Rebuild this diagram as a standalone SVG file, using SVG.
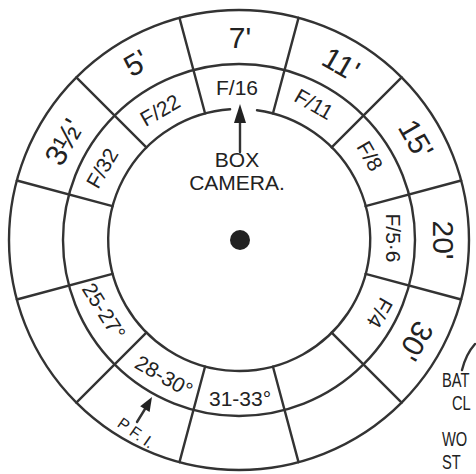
<svg xmlns="http://www.w3.org/2000/svg" width="476" height="474" viewBox="0 0 476 474">
<defs>
<style>
.ln{fill:none;stroke:#333;stroke-width:2.4;stroke-linecap:round}
.t{font-family:"Liberation Sans",Arial,sans-serif;fill:#222;text-anchor:middle;dominant-baseline:central}
.o{font-size:30px}
.i{font-size:21px}
.s{font-family:"Liberation Sans",Arial,sans-serif;fill:#222;font-size:21px}
</style>
</defs>
<rect width="476" height="474" fill="#fff"/>
<g id="connectors">
<circle class="ln" cx="239" cy="240" r="230"/>
<circle class="ln" cx="239" cy="240" r="176"/>
<path class="ln" d="M257,110.2 A131,131 0 1 1 230.1,109.3"/>
<g id="dividers" transform="translate(239,240)">
<line class="ln" x1="0" y1="-131" x2="0" y2="-230" transform="rotate(15)"/>
<line class="ln" x1="0" y1="-131" x2="0" y2="-230" transform="rotate(45)"/>
<line class="ln" x1="0" y1="-131" x2="0" y2="-230" transform="rotate(75)"/>
<line class="ln" x1="0" y1="-131" x2="0" y2="-230" transform="rotate(105)"/>
<line class="ln" x1="0" y1="-131" x2="0" y2="-230" transform="rotate(135)"/>
<line class="ln" x1="0" y1="-131" x2="0" y2="-230" transform="rotate(165)"/>
<line class="ln" x1="0" y1="-131" x2="0" y2="-230" transform="rotate(195)"/>
<line class="ln" x1="0" y1="-131" x2="0" y2="-230" transform="rotate(225)"/>
<line class="ln" x1="0" y1="-131" x2="0" y2="-230" transform="rotate(255)"/>
<line class="ln" x1="0" y1="-131" x2="0" y2="-230" transform="rotate(285)"/>
<line class="ln" x1="0" y1="-131" x2="0" y2="-230" transform="rotate(315)"/>
<line class="ln" x1="0" y1="-131" x2="0" y2="-230" transform="rotate(345)"/>
</g>
<g id="arrow-box">
<line class="ln" x1="240" y1="120" x2="240" y2="152" stroke-width="3"/>
<polygon points="240,104 234,123 246,123" fill="#222"/>
</g>
<g id="arrow-pf">
<line class="ln" x1="137" y1="422" x2="145" y2="409" stroke-width="3.5"/>
<polygon points="152,397 149.6,412 140.2,406.3" fill="#222"/>
</g>
<path class="ln" d="M462,370 Q466,354 475,344"/>
</g>
<g id="hub"><circle cx="240" cy="240" r="10" fill="#222"/></g>
<g id="distances">
<text class="t o" transform="translate(240,37)">7'</text>
<text class="t o" transform="translate(341,64) rotate(30)">11'</text>
<text class="t o" transform="translate(416,139) rotate(60)">15'</text>
<text class="t o" transform="translate(443,240) rotate(90)">20'</text>
<text class="t o" transform="translate(416,341) rotate(120)">30'</text>
<text class="t o" transform="translate(64,142) rotate(-60)">3½'</text>
<text class="t o" transform="translate(136,63) rotate(-30)">5'</text>
<text class="t" font-size="16" transform="translate(136,433) rotate(35)">P F. I.</text>
</g>
<g id="apertures">
<text class="t i" transform="translate(237,87)">F/16</text>
<text class="t i" transform="translate(314,104) rotate(30)">F/11</text>
<text class="t i" transform="translate(370,156) rotate(60)">F/8</text>
<text class="t i" transform="translate(393,238) rotate(90)">F/5·6</text>
<text class="t i" transform="translate(380,313) rotate(120)">F/4</text>
<text class="t i" transform="translate(102,168) rotate(-60)">F/32</text>
<text class="t i" transform="translate(160,110) rotate(-30)">F/22</text>
</g>
<g id="temperatures">
<text class="t i" transform="translate(240,398)">31-33°</text>
<text class="t i" transform="translate(164,376) rotate(30)">28-30°</text>
<text class="t i" transform="translate(104,311) rotate(58)">25-27°</text>
</g>
<g id="box-camera">
<text class="t" font-size="21" x="237" y="159">BOX</text>
<text class="t" font-size="21" x="237" y="182">CAMERA.</text>
</g>
<g id="side-labels">
<text class="s" transform="translate(442,387) scale(0.7,1)">BAT</text>
<text class="s" transform="translate(452,410) scale(0.7,1)">CL</text>
<text class="s" transform="translate(442,446) scale(0.7,1)">WO</text>
<text class="s" transform="translate(442,469) scale(0.7,1)">ST</text>
</g>
</svg>
